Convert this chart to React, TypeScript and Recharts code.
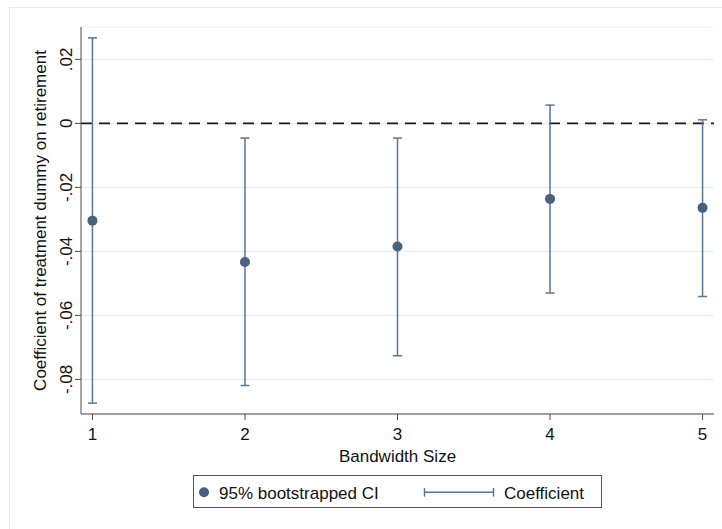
import {
  ComposedChart,
  Scatter,
  ErrorBar,
  XAxis,
  YAxis,
  CartesianGrid,
  ReferenceLine,
  Label,
} from "recharts";

const bandwidths = [1, 2, 3, 4, 5];
const coefficients = [-0.0304, -0.0433, -0.0385, -0.0236, -0.0264];
const ciLower = [-0.0874, -0.0819, -0.0726, -0.053, -0.0541];
const ciUpper = [0.0267, -0.0046, -0.0046, 0.0057, 0.0011];
const xTicks = [1, 2, 3, 4, 5];
const yTicks = [-0.08, -0.06, -0.04, -0.02, 0, 0.02];

const FONT = "'Liberation Sans', Arial, Helvetica, sans-serif";
const DOT = "#47617e";
const BAR = "#5b7692";
const AXIS = "#4a4a4a";

const data = bandwidths.map((b, i) => ({
  bandwidth: b,
  coef: coefficients[i],
  err: [coefficients[i] - ciLower[i], ciUpper[i] - coefficients[i]],
}));

// stata style: .02, -.02, 0
const fmt = (v: number) => {
  if (Math.abs(v) < 1e-9) return "0";
  const s = Math.abs(v).toFixed(2).replace(/^0/, "");
  return (v < 0 ? "-" : "") + s;
};

function YTick({ x, y, payload }: any) {
  return (
    <text
      x={x}
      y={y}
      transform={`rotate(-90 ${x} ${y})`}
      textAnchor="middle"
      fontSize={17}
      fontFamily={FONT}
      fill="#111"
    >
      {fmt(payload.value)}
    </text>
  );
}

function XTick({ x, y, payload }: any) {
  return (
    <text x={x} y={y} dy="0.71em" textAnchor="middle" fontSize={17} fontFamily={FONT} fill="#111">
      {payload.value}
    </text>
  );
}

function Dot({ cx, cy }: any) {
  return <circle cx={cx} cy={cy} r={5} fill={DOT} />;
}

export default function App() {
  return (
    <div style={{ position: "absolute", left: 0, top: 0, width: 722, height: 529, overflow: "hidden", background: "#fff" }}>
      <div
        style={{
          position: "absolute",
          left: 9,
          top: 7,
          width: 713,
          height: 522,
          borderTop: "1px solid #ececec",
          borderLeft: "1px solid #ececec",
        }}
      />
      <div style={{ position: "absolute", left: 0, top: 0 }}>
        <ComposedChart
          width={722}
          height={529}
          data={data}
          margin={{ top: 27, right: 8, bottom: 85, left: 0 }}
        >
          <CartesianGrid vertical={false} stroke="#e9eff1" strokeWidth={1.2} />
          <XAxis
            dataKey="bandwidth"
            type="number"
            domain={[0.925, 5.075]}
            ticks={xTicks}
            interval={0}
            allowDataOverflow
            height={30}
            tickSize={6}
            tickMargin={8}
            stroke={AXIS}
            tick={<XTick />}
          >
            <Label
              content={({ viewBox }: any) => (
                <text
                  x={viewBox.x + viewBox.width / 2}
                  y={462}
                  textAnchor="middle"
                  fontSize={17}
                  fontFamily={FONT}
                  fill="#111"
                >
                  Bandwidth Size
                </text>
              )}
            />
          </XAxis>
          <YAxis
            type="number"
            domain={[-0.0908, 0.0301]}
            ticks={yTicks}
            interval={0}
            allowDataOverflow
            width={81}
            tickSize={6}
            tickMargin={3}
            stroke={AXIS}
            tick={<YTick />}
          >
            <Label
              content={({ viewBox }: any) => {
                const cy = viewBox.y + viewBox.height / 2;
                return (
                  <text
                    x={46}
                    y={cy}
                    transform={`rotate(-90 46 ${cy})`}
                    textAnchor="middle"
                    fontSize={17}
                    fontFamily={FONT}
                    fill="#111"
                  >
                    Coefficient of treatment dummy on retirement
                  </text>
                );
              }}
            />
          </YAxis>
          <ReferenceLine y={0} stroke="#1a1a1a" strokeWidth={1.6} strokeDasharray="11 7" />
          <Scatter dataKey="coef" shape={<Dot />} isAnimationActive={false}>
            <ErrorBar
              dataKey="err"
              direction="y"
              width={4.5}
              stroke={BAR}
              strokeWidth={1.5}
              isAnimationActive={false}
            />
          </Scatter>
        </ComposedChart>
      </div>
      <div
        style={{
          position: "absolute",
          left: 193,
          top: 475,
          width: 409,
          height: 33,
          boxSizing: "border-box",
          border: "1px solid #555",
          fontFamily: FONT,
          fontSize: 17,
          color: "#111",
        }}
      >
        <svg width={409} height={33} style={{ position: "absolute", left: -1, top: -1 }}>
          <circle cx={11} cy={17.3} r={5} fill={DOT} />
          <line x1={231.5} y1={17.3} x2={300.5} y2={17.3} stroke={BAR} strokeWidth={1.5} />
          <line x1={231.5} y1={13} x2={231.5} y2={21.6} stroke={BAR} strokeWidth={1.5} />
          <line x1={300.5} y1={13} x2={300.5} y2={21.6} stroke={BAR} strokeWidth={1.5} />
          <text x={26} y={24} fontSize={17} fontFamily={FONT} fill="#111">
            95% bootstrapped CI
          </text>
          <text x={311} y={24} fontSize={17} fontFamily={FONT} fill="#111">
            Coefficient
          </text>
        </svg>
      </div>
    </div>
  );
}
